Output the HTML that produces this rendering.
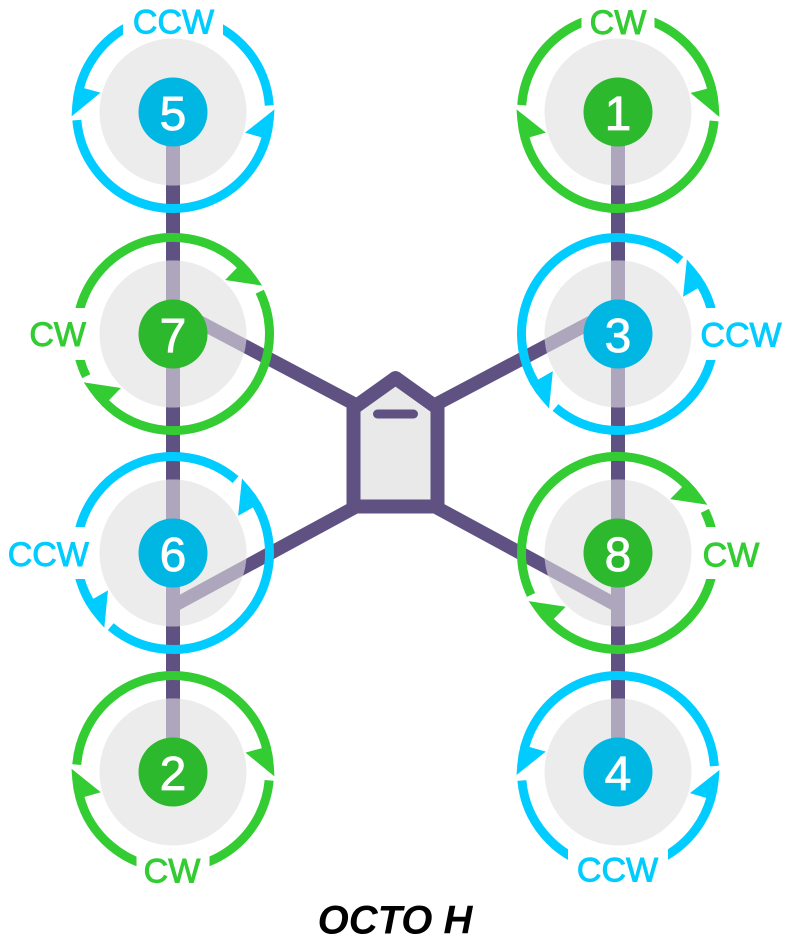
<!DOCTYPE html>
<html>
<head>
<meta charset="utf-8">
<style>
  html, body { margin: 0; padding: 0; background: #ffffff; }
  svg { display: block; }
  text { font-family: "Liberation Sans", "DejaVu Sans", sans-serif; }
</style>
</head>
<body>
<svg width="789" height="947" viewBox="0 0 789 947" xmlns="http://www.w3.org/2000/svg">
  <defs>
    <clipPath id="discs">
      <circle cx="173" cy="112" r="73.5"/>
      <circle cx="173" cy="334" r="73.5"/>
      <circle cx="173" cy="553" r="73.5"/>
      <circle cx="173" cy="772" r="73.5"/>
      <circle cx="618" cy="112" r="73.5"/>
      <circle cx="618" cy="334" r="73.5"/>
      <circle cx="618" cy="553" r="73.5"/>
      <circle cx="618" cy="772" r="73.5"/>
    </clipPath>
    <polygon id="ah" points="101.5,0 71.53,-22.55 87.55,-27.6 96.33,-30.37 98.91,-20.43 100.48,-10.26"/>
  </defs>

  <!-- frame (purple) -->
  <g stroke="#5f5181" fill="none">
    <line x1="173" y1="112" x2="173" y2="772" stroke-width="14"/>
    <line x1="618" y1="112" x2="618" y2="772" stroke-width="14"/>
    <line x1="173" y1="308" x2="396" y2="426" stroke-width="13.5"/>
    <line x1="173" y1="606" x2="396" y2="485" stroke-width="13.5"/>
    <line x1="618" y1="308" x2="395" y2="426" stroke-width="13.5"/>
    <line x1="618" y1="606" x2="395" y2="485" stroke-width="13.5"/>
  </g>

  <!-- discs -->
  <g fill="#ececec">
    <circle cx="173" cy="112" r="73.5"/>
    <circle cx="173" cy="334" r="73.5"/>
    <circle cx="173" cy="553" r="73.5"/>
    <circle cx="173" cy="772" r="73.5"/>
    <circle cx="618" cy="112" r="73.5"/>
    <circle cx="618" cy="334" r="73.5"/>
    <circle cx="618" cy="553" r="73.5"/>
    <circle cx="618" cy="772" r="73.5"/>
  </g>

  <!-- frame inside discs (light) -->
  <g stroke="#aea6bc" fill="none" clip-path="url(#discs)">
    <line x1="173" y1="112" x2="173" y2="772" stroke-width="14"/>
    <line x1="618" y1="112" x2="618" y2="772" stroke-width="14"/>
    <line x1="173" y1="308" x2="396" y2="426" stroke-width="13.5"/>
    <line x1="173" y1="606" x2="396" y2="485" stroke-width="13.5"/>
    <line x1="618" y1="308" x2="395" y2="426" stroke-width="13.5"/>
    <line x1="618" y1="606" x2="395" y2="485" stroke-width="13.5"/>
  </g>

  <!-- rings -->
  <g fill="none" stroke-width="9">
    <circle cx="173" cy="112" r="96.5" stroke="#00ccff" transform="rotate(194 173 112)" stroke-dasharray="272.85 32 269.48 32"/>
    <circle cx="618" cy="112" r="96.5" stroke="#33cc33" transform="rotate(5.3 618 112)" stroke-dasharray="268.97 32 273.35 32"/>
    <circle cx="173" cy="334" r="96.5" stroke="#33cc33" transform="rotate(-26 173 334)" stroke-dasharray="271.16 32 271.16 32"/>
    <circle cx="618" cy="334" r="96.5" stroke="#00ccff" transform="rotate(-30.8 618 334)" stroke-dasharray="271.33 32 271.0 32"/>
    <circle cx="173" cy="553" r="96.5" stroke="#00ccff" transform="rotate(-30.7 173 553)" stroke-dasharray="270.83 32 271.5 32"/>
    <circle cx="618" cy="553" r="96.5" stroke="#33cc33" transform="rotate(-25.9 618 553)" stroke-dasharray="271.33 32 271.0 32"/>
    <circle cx="173" cy="772" r="96.5" stroke="#33cc33" transform="rotate(5 173 772)" stroke-dasharray="269.98 32 272.34 32"/>
    <circle cx="618" cy="772" r="96.5" stroke="#00ccff" transform="rotate(194.8 618 772)" stroke-dasharray="272.17 32 268.47 32"/>
  </g>

  <!-- arrowheads CW (green) -->
  <g fill="#33cc33">
    <use href="#ah" transform="translate(618 112) rotate(2.8)"/>
    <use href="#ah" transform="translate(618 112) rotate(181.5)"/>
    <use href="#ah" transform="translate(173 334) rotate(-28.5)"/>
    <use href="#ah" transform="translate(173 334) rotate(151.5)"/>
    <use href="#ah" transform="translate(618 553) rotate(-28.4)"/>
    <use href="#ah" transform="translate(618 553) rotate(151.7)"/>
    <use href="#ah" transform="translate(173 772) rotate(2.5)"/>
    <use href="#ah" transform="translate(173 772) rotate(181.8)"/>
  </g>
  <!-- arrowheads CCW (blue) -->
  <g fill="#00ccff">
    <use href="#ah" transform="translate(173 112) rotate(177.5) scale(1 -1)"/>
    <use href="#ah" transform="translate(173 112) rotate(358.5) scale(1 -1)"/>
    <use href="#ah" transform="translate(618 334) rotate(-47.3) scale(1 -1)"/>
    <use href="#ah" transform="translate(618 334) rotate(132.8) scale(1 -1)"/>
    <use href="#ah" transform="translate(173 553) rotate(-47.2) scale(1 -1)"/>
    <use href="#ah" transform="translate(173 553) rotate(132.6) scale(1 -1)"/>
    <use href="#ah" transform="translate(618 772) rotate(178.3) scale(1 -1)"/>
    <use href="#ah" transform="translate(618 772) rotate(358.9) scale(1 -1)"/>
  </g>

  <!-- label gaps -->
  <g fill="#ffffff">
    <rect x="123" y="4" width="100" height="33"/>
    <rect x="581.5" y="4" width="73" height="28"/>
    <rect x="65" y="308" width="28" height="52"/>
    <rect x="698" y="308" width="28" height="52"/>
    <rect x="65" y="527" width="28" height="52"/>
    <rect x="698" y="527" width="28" height="52"/>
    <rect x="136.5" y="852" width="73" height="28"/>
    <rect x="568" y="847" width="100" height="33"/>
  </g>

  <!-- body -->
  <path d="M353.5,408 L395.5,378 L437.5,408 L437.5,506.5 L353.5,506.5 Z" fill="#e9e9e9" stroke="#5f5181" stroke-width="14" stroke-linejoin="round"/>
  <line x1="377.5" y1="414" x2="413.5" y2="414" stroke="#5f5181" stroke-width="9" stroke-linecap="round"/>

  <!-- number circles -->
  <g>
    <circle cx="173" cy="112" r="34.5" fill="#00b7e3"/>
    <circle cx="618" cy="112" r="34.5" fill="#2db92d"/>
    <circle cx="173" cy="334" r="34.5" fill="#2db92d"/>
    <circle cx="618" cy="334" r="34.5" fill="#00b7e3"/>
    <circle cx="173" cy="553" r="34.5" fill="#00b7e3"/>
    <circle cx="618" cy="553" r="34.5" fill="#2db92d"/>
    <circle cx="173" cy="772" r="34.5" fill="#2db92d"/>
    <circle cx="618" cy="772" r="34.5" fill="#00b7e3"/>
  </g>
  <g fill="#ffffff" stroke="#ffffff" stroke-width="0.8" font-size="48" text-anchor="middle">
    <text x="173" y="130">5</text>
    <text x="618" y="130">1</text>
    <text x="173" y="352">7</text>
    <text x="618" y="352">3</text>
    <text x="173" y="571">6</text>
    <text x="618" y="571">8</text>
    <text x="173" y="790">2</text>
    <text x="618" y="790">4</text>
  </g>

  <!-- direction labels -->
  <g font-size="34" text-anchor="middle" stroke-width="0.9">
    <text x="173.5" y="33.3" fill="#00ccff" stroke="#00ccff">CCW</text>
    <text x="618" y="34" fill="#33cc33" stroke="#33cc33">CW</text>
    <text x="57.7" y="346" fill="#33cc33" stroke="#33cc33">CW</text>
    <text x="741" y="346.7" fill="#00ccff" stroke="#00ccff">CCW</text>
    <text x="48.3" y="566" fill="#00ccff" stroke="#00ccff">CCW</text>
    <text x="731" y="566.7" fill="#33cc33" stroke="#33cc33">CW</text>
    <text x="172" y="882.7" fill="#33cc33" stroke="#33cc33">CW</text>
    <text x="617.5" y="881.7" fill="#00ccff" stroke="#00ccff">CCW</text>
  </g>

  <!-- title -->
  <text x="395" y="933.3" font-size="40" font-weight="bold" font-style="italic" text-anchor="middle" fill="#000000">OCTO H</text>
</svg>
</body>
</html>
